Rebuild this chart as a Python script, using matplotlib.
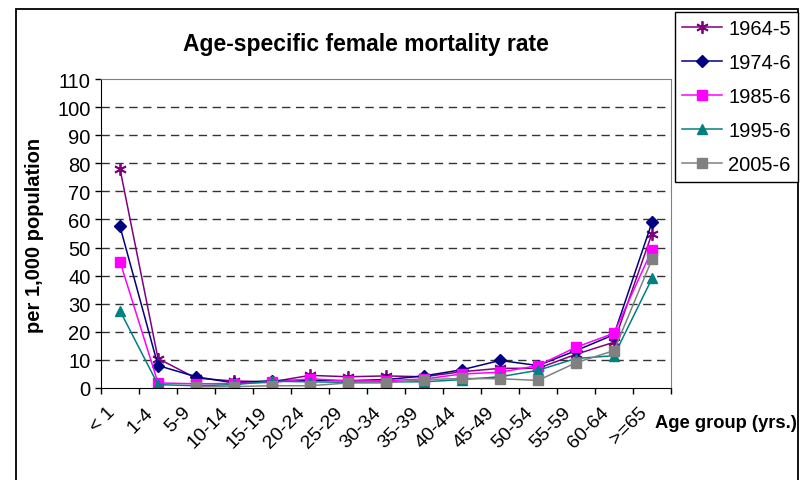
import numpy as np
import matplotlib
matplotlib.use("Agg")
import matplotlib.pyplot as plt
import matplotlib.transforms as mtransforms
from matplotlib.patches import Rectangle

plt.rcParams['font.family'] = ['Liberation Sans', 'DejaVu Sans']

# age groups and rates per 1,000 females
age_groups = ['< 1', '1-4', '5-9', '10-14', '15-19', '20-24', '25-29', '30-34',
              '35-39', '40-44', '45-49', '50-54', '55-59', '60-64', '>=65']
rate_1964 = [78, 10.5, 3.5, 2.5, 2.2, 4.5, 4.0, 4.3, 4.0, 5.8, 7.0, 7.0, 12.0, 16.3, 55]
rate_1974 = [57.5, 8.0, 4.0, 1.8, 2.6, 2.8, 2.6, 3.0, 4.3, 6.5, 9.8, 8.0, 13.3, 19.0, 59]
rate_1985 = [45, 1.8, 1.5, 1.6, 2.0, 3.3, 2.5, 2.6, 3.2, 5.0, 5.6, 8.0, 14.5, 19.5, 49.2]
rate_1995 = [27.5, 1.2, 0.8, 1.2, 2.4, 2.2, 2.0, 2.2, 2.2, 3.0, 4.0, 6.3, 10.5, 11.5, 39]
rate_2005 = [np.nan, np.nan, 0.4, 0.5, 0.8, 0.8, 1.8, 1.8, 3.0, 3.4, 3.3, 2.7, 9.0, 13.3, 45.8]
periods = ['1964-5', '1974-6', '1985-6', '1995-6', '2005-6']

W, H = 809, 481
fig = plt.figure(figsize=(W / 100, H / 100), dpi=100)
ax = fig.add_axes([101 / W, 1 - 389 / H, 570 / W, 309 / H])

styles = [
    dict(color='#800080', marker=(6, 2, 0), markersize=9, markeredgewidth=1.3),
    dict(color='#000080', marker='D', markersize=6.5),
    dict(color='#FF00FF', marker='s', markersize=6.5),
    dict(color='#008080', marker='^', markersize=7.5),
    dict(color='#808080', marker='s', markersize=6.5),
]
x = np.arange(len(age_groups))
for vals, lab, st in zip([rate_1964, rate_1974, rate_1985, rate_1995, rate_2005], periods, styles):
    ax.plot(x, vals, label=lab, linewidth=1.1, **st)

ax.set_xlim(-0.5, len(age_groups) - 0.5)
ax.set_ylim(0, 110)
ax.set_yticks(np.arange(0, 111, 10))
for v in range(10, 110, 10):
    ax.axhline(v, color='#333333', linewidth=1, linestyle=(0, (6, 4)), zorder=0)

ax.set_xticks(x)
ax.set_xticklabels(age_groups, rotation=45, ha='right', rotation_mode='anchor')
ax.set_xticks(np.arange(-0.5, len(age_groups)), minor=True)
ax.tick_params(axis='x', which='major', length=0, labelsize=14, pad=11)
ax.tick_params(axis='x', which='minor', length=4.5, width=1, direction='out')
ax.tick_params(axis='y', length=4.5, width=1, labelsize=14.5, pad=3)

# nudge the slanted category labels left of the point positions
shift = mtransforms.ScaledTranslation(-10 / 72, 0, fig.dpi_scale_trans)
for lbl in ax.get_xticklabels():
    lbl.set_transform(lbl.get_transform() + shift)

for side in ['top', 'right']:
    ax.spines[side].set_color('#808080')
ax.spines['left'].set_color('black')
ax.spines['bottom'].set_color('black')

fig.text(366 / W, 1 - 45 / H, 'Age-specific female mortality rate', fontsize=16.5,
         fontweight='bold', ha='center', va='center')
fig.text(35 / W, 1 - 235 / H, 'per 1,000 population', fontsize=14.5, fontweight='bold',
         rotation=90, ha='center', va='center')
fig.text(655 / W, 1 - 424 / H, 'Age group (yrs.)', fontsize=13.2, fontweight='bold',
         ha='left', va='center')

leg = fig.legend(loc='upper right', bbox_to_anchor=(798 / W, 1 - 13 / H), fontsize=14.5,
                 frameon=True, fancybox=False, framealpha=1, edgecolor='black',
                 handlelength=2.0, handletextpad=0.3, labelspacing=0.75,
                 borderpad=0.35, borderaxespad=0)
leg.get_frame().set_linewidth(1)

# outer chart border
fig.patches.append(Rectangle((16 / W, -0.05), 782 / W, 1.05 - 10 / H, transform=fig.transFigure,
                             fill=False, edgecolor='black', linewidth=1.3))

fig.savefig('out.png', dpi=100)
